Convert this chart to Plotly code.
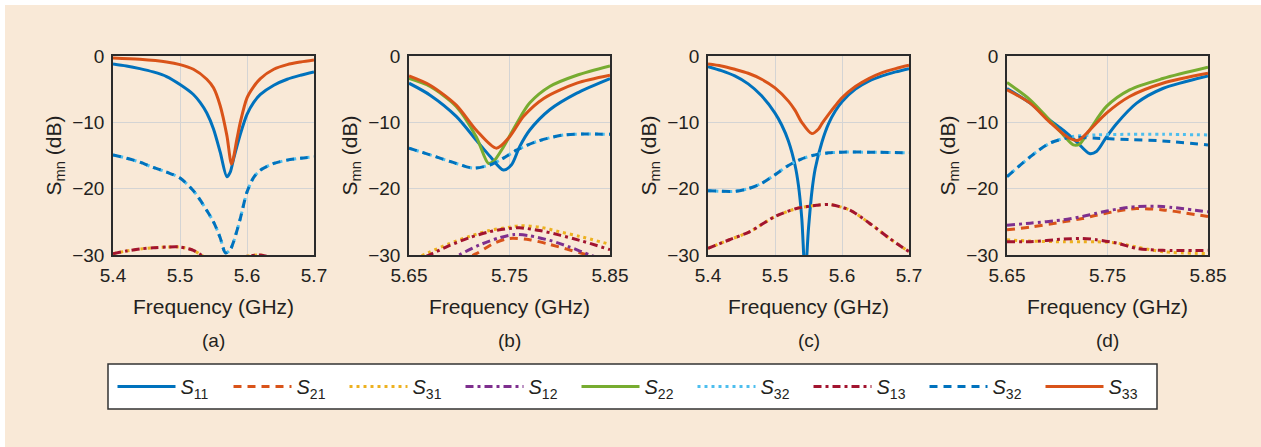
import plotly.graph_objects as go

# ---------------- data ----------------
# Panel (a)
A_F_S11 = [5.40, 5.42, 5.44, 5.46, 5.48, 5.50, 5.52, 5.53, 5.54, 5.55, 5.56, 5.57, 5.575, 5.58, 5.59, 5.60, 5.61, 5.62, 5.64, 5.66, 5.68, 5.70]
A_S11 = [-1.2, -1.5, -1.9, -2.4, -3.1, -4.3, -5.8, -7.0, -8.6, -11.0, -14.5, -18.2, -17.5, -15.5, -11.8, -8.8, -7.0, -5.8, -4.4, -3.5, -2.9, -2.4]
A_F_S33 = [5.40, 5.44, 5.48, 5.50, 5.52, 5.54, 5.55, 5.56, 5.57, 5.577, 5.585, 5.59, 5.60, 5.61, 5.62, 5.64, 5.66, 5.68, 5.70]
A_S33 = [-0.3, -0.5, -0.9, -1.3, -2.0, -3.5, -4.8, -7.5, -12.0, -16.3, -12.5, -10.0, -6.3, -4.6, -3.4, -2.0, -1.3, -0.9, -0.6]
A_F_S32 = [5.40, 5.42, 5.44, 5.46, 5.48, 5.50, 5.52, 5.53, 5.54, 5.55, 5.56, 5.568, 5.575, 5.58, 5.59, 5.60, 5.61, 5.62, 5.64, 5.66, 5.68, 5.70]
A_S32 = [-14.9, -15.4, -16.0, -16.8, -17.5, -18.4, -20.3, -21.7, -23.3, -25.0, -27.4, -29.7, -29.2, -28.0, -24.5, -20.5, -18.3, -17.2, -16.2, -15.7, -15.4, -15.2]
A_F_LOW = [5.40, 5.42, 5.44, 5.46, 5.48, 5.50, 5.52, 5.53, 5.54, 5.56, 5.58, 5.60, 5.62, 5.64, 5.66, 5.70]
A_S13 = [-29.8, -29.4, -29.1, -28.9, -28.8, -28.8, -29.3, -29.9, -30.5, -31.5, -31.0, -30.2, -30.0, -30.5, -31.0, -32.0]
A_S31 = [-29.8, -29.4, -29.1, -28.9, -28.8, -28.8, -29.3, -29.9, -30.5, -31.5, -31.0, -30.2, -30.0, -30.5, -31.0, -32.0]

# Panel (b)
B_F = [5.65, 5.671, 5.697, 5.717, 5.731, 5.744, 5.752, 5.760, 5.770, 5.790, 5.817, 5.85]
B_S11 = [-4.1, -5.9, -9.1, -12.7, -15.2, -17.2, -16.4, -13.7, -11.2, -8.1, -5.6, -3.4]
B_F_S22 = [5.65, 5.671, 5.697, 5.717, 5.729, 5.734, 5.744, 5.757, 5.770, 5.790, 5.817, 5.85]
B_S22 = [-3.4, -4.6, -7.6, -12.2, -16.2, -15.9, -13.7, -10.2, -7.1, -4.6, -2.9, -1.5]
B_F_S33 = [5.65, 5.671, 5.697, 5.717, 5.737, 5.750, 5.764, 5.784, 5.817, 5.85]
B_S33 = [-3.0, -4.4, -7.4, -11.2, -13.9, -12.2, -9.1, -6.4, -4.1, -2.9]
B_F_S32 = [5.65, 5.671, 5.697, 5.714, 5.731, 5.744, 5.757, 5.777, 5.804, 5.85]
B_S32 = [-13.9, -14.9, -16.2, -16.9, -16.4, -15.4, -14.2, -12.9, -11.9, -11.8]
B_F_LOW = [5.65, 5.67, 5.69, 5.71, 5.73, 5.75, 5.76, 5.78, 5.80, 5.82, 5.85]
B_S31 = [-31.0, -29.6, -28.3, -27.2, -26.3, -25.8, -25.6, -25.8, -26.5, -27.2, -28.4]
B_S13 = [-31.5, -30.0, -28.6, -27.4, -26.5, -26.0, -25.9, -26.3, -27.0, -27.8, -29.2]
B_F_S12 = [5.69, 5.70, 5.72, 5.74, 5.755, 5.77, 5.79, 5.81, 5.83, 5.85]
B_S12 = [-31.0, -30.0, -28.5, -27.4, -26.9, -27.1, -27.8, -28.8, -30.0, -31.0]
B_F_S21 = [5.70, 5.717, 5.735, 5.750, 5.770, 5.790, 5.823, 5.85]
B_S21 = [-31.0, -29.8, -28.2, -27.5, -27.7, -28.4, -29.8, -31.0]

# Panel (c)
C_F_S11 = [5.40, 5.42, 5.44, 5.46, 5.48, 5.50, 5.51, 5.52, 5.53, 5.535, 5.54, 5.545, 5.55, 5.555, 5.56, 5.57, 5.58, 5.59, 5.60, 5.62, 5.64, 5.66, 5.68, 5.70]
C_S11 = [-1.6, -2.2, -3.0, -4.2, -6.0, -8.6, -10.4, -12.8, -16.5, -19.5, -24.5, -33.0, -26.0, -20.5, -17.0, -13.0, -10.2, -8.3, -6.9, -5.0, -3.8, -3.0, -2.4, -1.9]
C_F_S33 = [5.40, 5.42, 5.44, 5.46, 5.48, 5.50, 5.52, 5.53, 5.54, 5.555, 5.565, 5.57, 5.58, 5.59, 5.60, 5.62, 5.64, 5.66, 5.68, 5.70]
C_S33 = [-1.2, -1.5, -2.0, -2.6, -3.5, -4.8, -6.8, -8.2, -10.0, -11.7, -11.0, -10.2, -8.8, -7.5, -6.3, -4.6, -3.4, -2.5, -1.9, -1.4]
C_F_S32 = [5.40, 5.42, 5.44, 5.46, 5.48, 5.50, 5.52, 5.54, 5.56, 5.58, 5.60, 5.64, 5.70]
C_S32 = [-20.3, -20.4, -20.4, -20.0, -19.2, -17.9, -16.5, -15.5, -14.9, -14.6, -14.5, -14.5, -14.6]
C_F_LOW = [5.40, 5.432, 5.462, 5.50, 5.532, 5.562, 5.582, 5.611, 5.641, 5.671, 5.70]
C_S13 = [-29.0, -27.7, -26.5, -24.2, -23.0, -22.5, -22.4, -23.2, -25.2, -27.5, -29.5]
C_S31 = [-29.0, -27.7, -26.5, -24.2, -23.0, -22.5, -22.4, -23.2, -25.2, -27.5, -29.5]

# Panel (d)
D_F_S11 = [5.65, 5.673, 5.692, 5.706, 5.719, 5.732, 5.739, 5.749, 5.759, 5.779, 5.805, 5.85]
D_S11 = [-4.9, -7.1, -9.6, -11.2, -12.9, -14.7, -14.4, -12.2, -10.2, -7.1, -4.9, -3.0]
D_F_S22 = [5.65, 5.673, 5.692, 5.706, 5.716, 5.722, 5.732, 5.749, 5.772, 5.805, 5.85]
D_S22 = [-4.0, -6.6, -9.6, -11.9, -13.4, -13.3, -11.2, -7.6, -5.1, -3.4, -1.7]
D_F_S33 = [5.65, 5.673, 5.692, 5.712, 5.721, 5.732, 5.749, 5.772, 5.805, 5.85]
D_S33 = [-5.1, -7.1, -9.9, -12.4, -12.7, -11.2, -8.6, -6.1, -4.1, -2.6]
D_F_S32 = [5.65, 5.673, 5.692, 5.712, 5.739, 5.772, 5.805, 5.85]
D_S32_DOT = [-18.2, -15.2, -13.2, -12.2, -11.9, -11.8, -11.8, -11.9]
D_S32_DASH = [-18.2, -15.2, -13.2, -12.3, -12.4, -12.6, -12.8, -13.4]
D_F_LOW = [5.65, 5.673, 5.706, 5.725, 5.739, 5.759, 5.779, 5.805, 5.85]
D_S12 = [-25.5, -25.2, -24.7, -24.2, -23.7, -23.1, -22.7, -22.7, -23.5]
D_S21 = [-26.2, -25.8, -25.0, -24.5, -24.0, -23.4, -23.0, -23.2, -24.2]
D_S13 = [-28.0, -28.0, -27.6, -27.5, -27.7, -28.2, -29.0, -29.3, -29.3]
D_S31 = [-27.7, -27.9, -28.0, -28.0, -28.0, -28.2, -28.8, -29.5, -29.8]

# ---------------- styles ----------------
SERIES = {
    "S11": dict(name="<i>S</i><sub>11</sub>", color="#0072BD", dash="solid", rank=1),
    "S21": dict(name="<i>S</i><sub>21</sub>", color="#D95319", dash="8px,6px", rank=2),
    "S31": dict(name="<i>S</i><sub>31</sub>", color="#EDB120", dash="3px,4px", rank=3),
    "S12": dict(name="<i>S</i><sub>12</sub>", color="#7E2F8E", dash="8px,4px,3px,4px", rank=4),
    "S22": dict(name="<i>S</i><sub>22</sub>", color="#77AC30", dash="solid", rank=5),
    "S32d": dict(name="<i>S</i><sub>32</sub>", color="#4DBEEE", dash="3px,4px", rank=6),
    "S13": dict(name="<i>S</i><sub>13</sub>", color="#A2142F", dash="8px,4px,3px,4px", rank=7),
    "S32": dict(name="<i>S</i><sub>32</sub>", color="#0072BD", dash="8px,6px", rank=8),
    "S33": dict(name="<i>S</i><sub>33</sub>", color="#D95319", dash="solid", rank=9),
}

PANELS = [
    dict(label="(a)", xr=[5.4, 5.7], tv=[5.4, 5.5, 5.6, 5.7], tt=["5.4", "5.5", "5.6", "5.7"], px=(113, 314),
         traces=[("S31", A_F_LOW, A_S31), ("S13", A_F_LOW, A_S13), ("S32d", A_F_S32, A_S32), ("S32", A_F_S32, A_S32),
                 ("S11", A_F_S11, A_S11), ("S33", A_F_S33, A_S33)]),
    dict(label="(b)", xr=[5.65, 5.85], tv=[5.65, 5.75, 5.85], tt=["5.65", "5.75", "5.85"], px=(409, 610),
         traces=[("S11", B_F, B_S11), ("S21", B_F_S21, B_S21), ("S31", B_F_LOW, B_S31), ("S12", B_F_S12, B_S12),
                 ("S22", B_F_S22, B_S22), ("S32d", B_F_S32, B_S32), ("S13", B_F_LOW, B_S13), ("S32", B_F_S32, B_S32),
                 ("S33", B_F_S33, B_S33)]),
    dict(label="(c)", xr=[5.4, 5.7], tv=[5.4, 5.5, 5.6, 5.7], tt=["5.4", "5.5", "5.6", "5.7"], px=(708, 909),
         traces=[("S11", C_F_S11, C_S11), ("S31", C_F_LOW, C_S31), ("S32d", C_F_S32, C_S32), ("S13", C_F_LOW, C_S13),
                 ("S32", C_F_S32, C_S32), ("S33", C_F_S33, C_S33)]),
    dict(label="(d)", xr=[5.65, 5.85], tv=[5.65, 5.75, 5.85], tt=["5.65", "5.75", "5.85"], px=(1007, 1208),
         traces=[("S11", D_F_S11, D_S11), ("S21", D_F_LOW, D_S21), ("S31", D_F_LOW, D_S31), ("S12", D_F_LOW, D_S12),
                 ("S22", D_F_S22, D_S22), ("S32d", D_F_S32, D_S32_DOT), ("S13", D_F_LOW, D_S13), ("S32", D_F_S32, D_S32_DASH),
                 ("S33", D_F_S33, D_S33)]),
]

W, H = 1261, 447
TOP, BOT = 56, 255
FONT = "Liberation Sans, Arial, Helvetica, sans-serif"
TXT = "#231F20"

fig = go.Figure()
shown = set()
annotations = []
layout_axes = {}

for i, p in enumerate(PANELS):
    n = "" if i == 0 else str(i + 1)
    xa, ya = "x" + n, "y" + n
    for key, xs, ys in p["traces"]:
        s = SERIES[key]
        show = key not in shown
        shown.add(key)
        fig.add_trace(go.Scatter(
            x=xs, y=ys, mode="lines", name=s["name"], legendgroup=key, showlegend=show,
            legendrank=s["rank"], line=dict(color=s["color"], dash=s["dash"], width=3, shape="spline", smoothing=0.8),
            xaxis=xa, yaxis=ya, hoverinfo="skip"))
    x0, x1 = p["px"]
    common = dict(showgrid=True, gridcolor="#D4D4D4", gridwidth=1, showline=True, linecolor="#2b2b2b",
                  linewidth=1.5, mirror=True, ticks="", zeroline=False,
                  tickfont=dict(family=FONT, size=19, color=TXT), automargin=False)
    layout_axes["xaxis" + n] = dict(domain=[x0 / W, x1 / W], range=p["xr"], tickvals=p["tv"], ticktext=p["tt"],
                                    anchor=ya, ticklabelstandoff=2, **common)
    layout_axes["yaxis" + n] = dict(domain=[(H - BOT) / H, (H - TOP) / H], range=[-30, 0], tickvals=[-30, -20, -10, 0],
                                    anchor=xa, ticklabelstandoff=3, **common)
    cx = (x0 + x1) / 2 / W
    annotations.append(dict(text="Frequency (GHz)", x=cx, y=(H - 307) / H, xref="paper", yref="paper",
                            xanchor="center", yanchor="middle",
                            showarrow=False, font=dict(family=FONT, size=21, color=TXT)))
    annotations.append(dict(text=p["label"], x=cx, y=(H - 340) / H, xref="paper", yref="paper",
                            xanchor="center", yanchor="middle",
                            showarrow=False, font=dict(family=FONT, size=19, color=TXT)))
    annotations.append(dict(text="S<sub>mn</sub> (dB)", x=(x0 - 59) / W, y=(H - (TOP + BOT) / 2) / H,
                            xref="paper", yref="paper", showarrow=False, textangle=-90,
                            xanchor="center", yanchor="middle",
                            font=dict(family=FONT, size=21, color=TXT)))

shapes = [
    dict(type="rect", xref="paper", yref="paper", x0=5 / W, x1=1, y0=0, y1=(H - 5) / H,
         fillcolor="#F9E9D7", line=dict(width=0), layer="below"),
    dict(type="rect", xref="paper", yref="paper", x0=108 / W, x1=1157 / W, y0=(H - 409) / H, y1=(H - 364) / H,
         fillcolor="white", line=dict(color="#333333", width=1.5), layer="below"),
]

fig.update_layout(
    width=W, height=H, margin=dict(l=0, r=0, t=0, b=0),
    paper_bgcolor="white", plot_bgcolor="white",
    font=dict(family=FONT, color=TXT),
    showlegend=True,
    legend=dict(orientation="h", x=634.5 / W, xanchor="center", y=(H - 386.5) / H, yanchor="middle",
                bgcolor="rgba(0,0,0,0)", borderwidth=0, entrywidth=43, entrywidthmode="pixels",
                itemwidth=58, font=dict(family=FONT, size=20, color=TXT), traceorder="normal"),
    annotations=annotations, shapes=shapes, **layout_axes)

fig.write_html("out.html")
